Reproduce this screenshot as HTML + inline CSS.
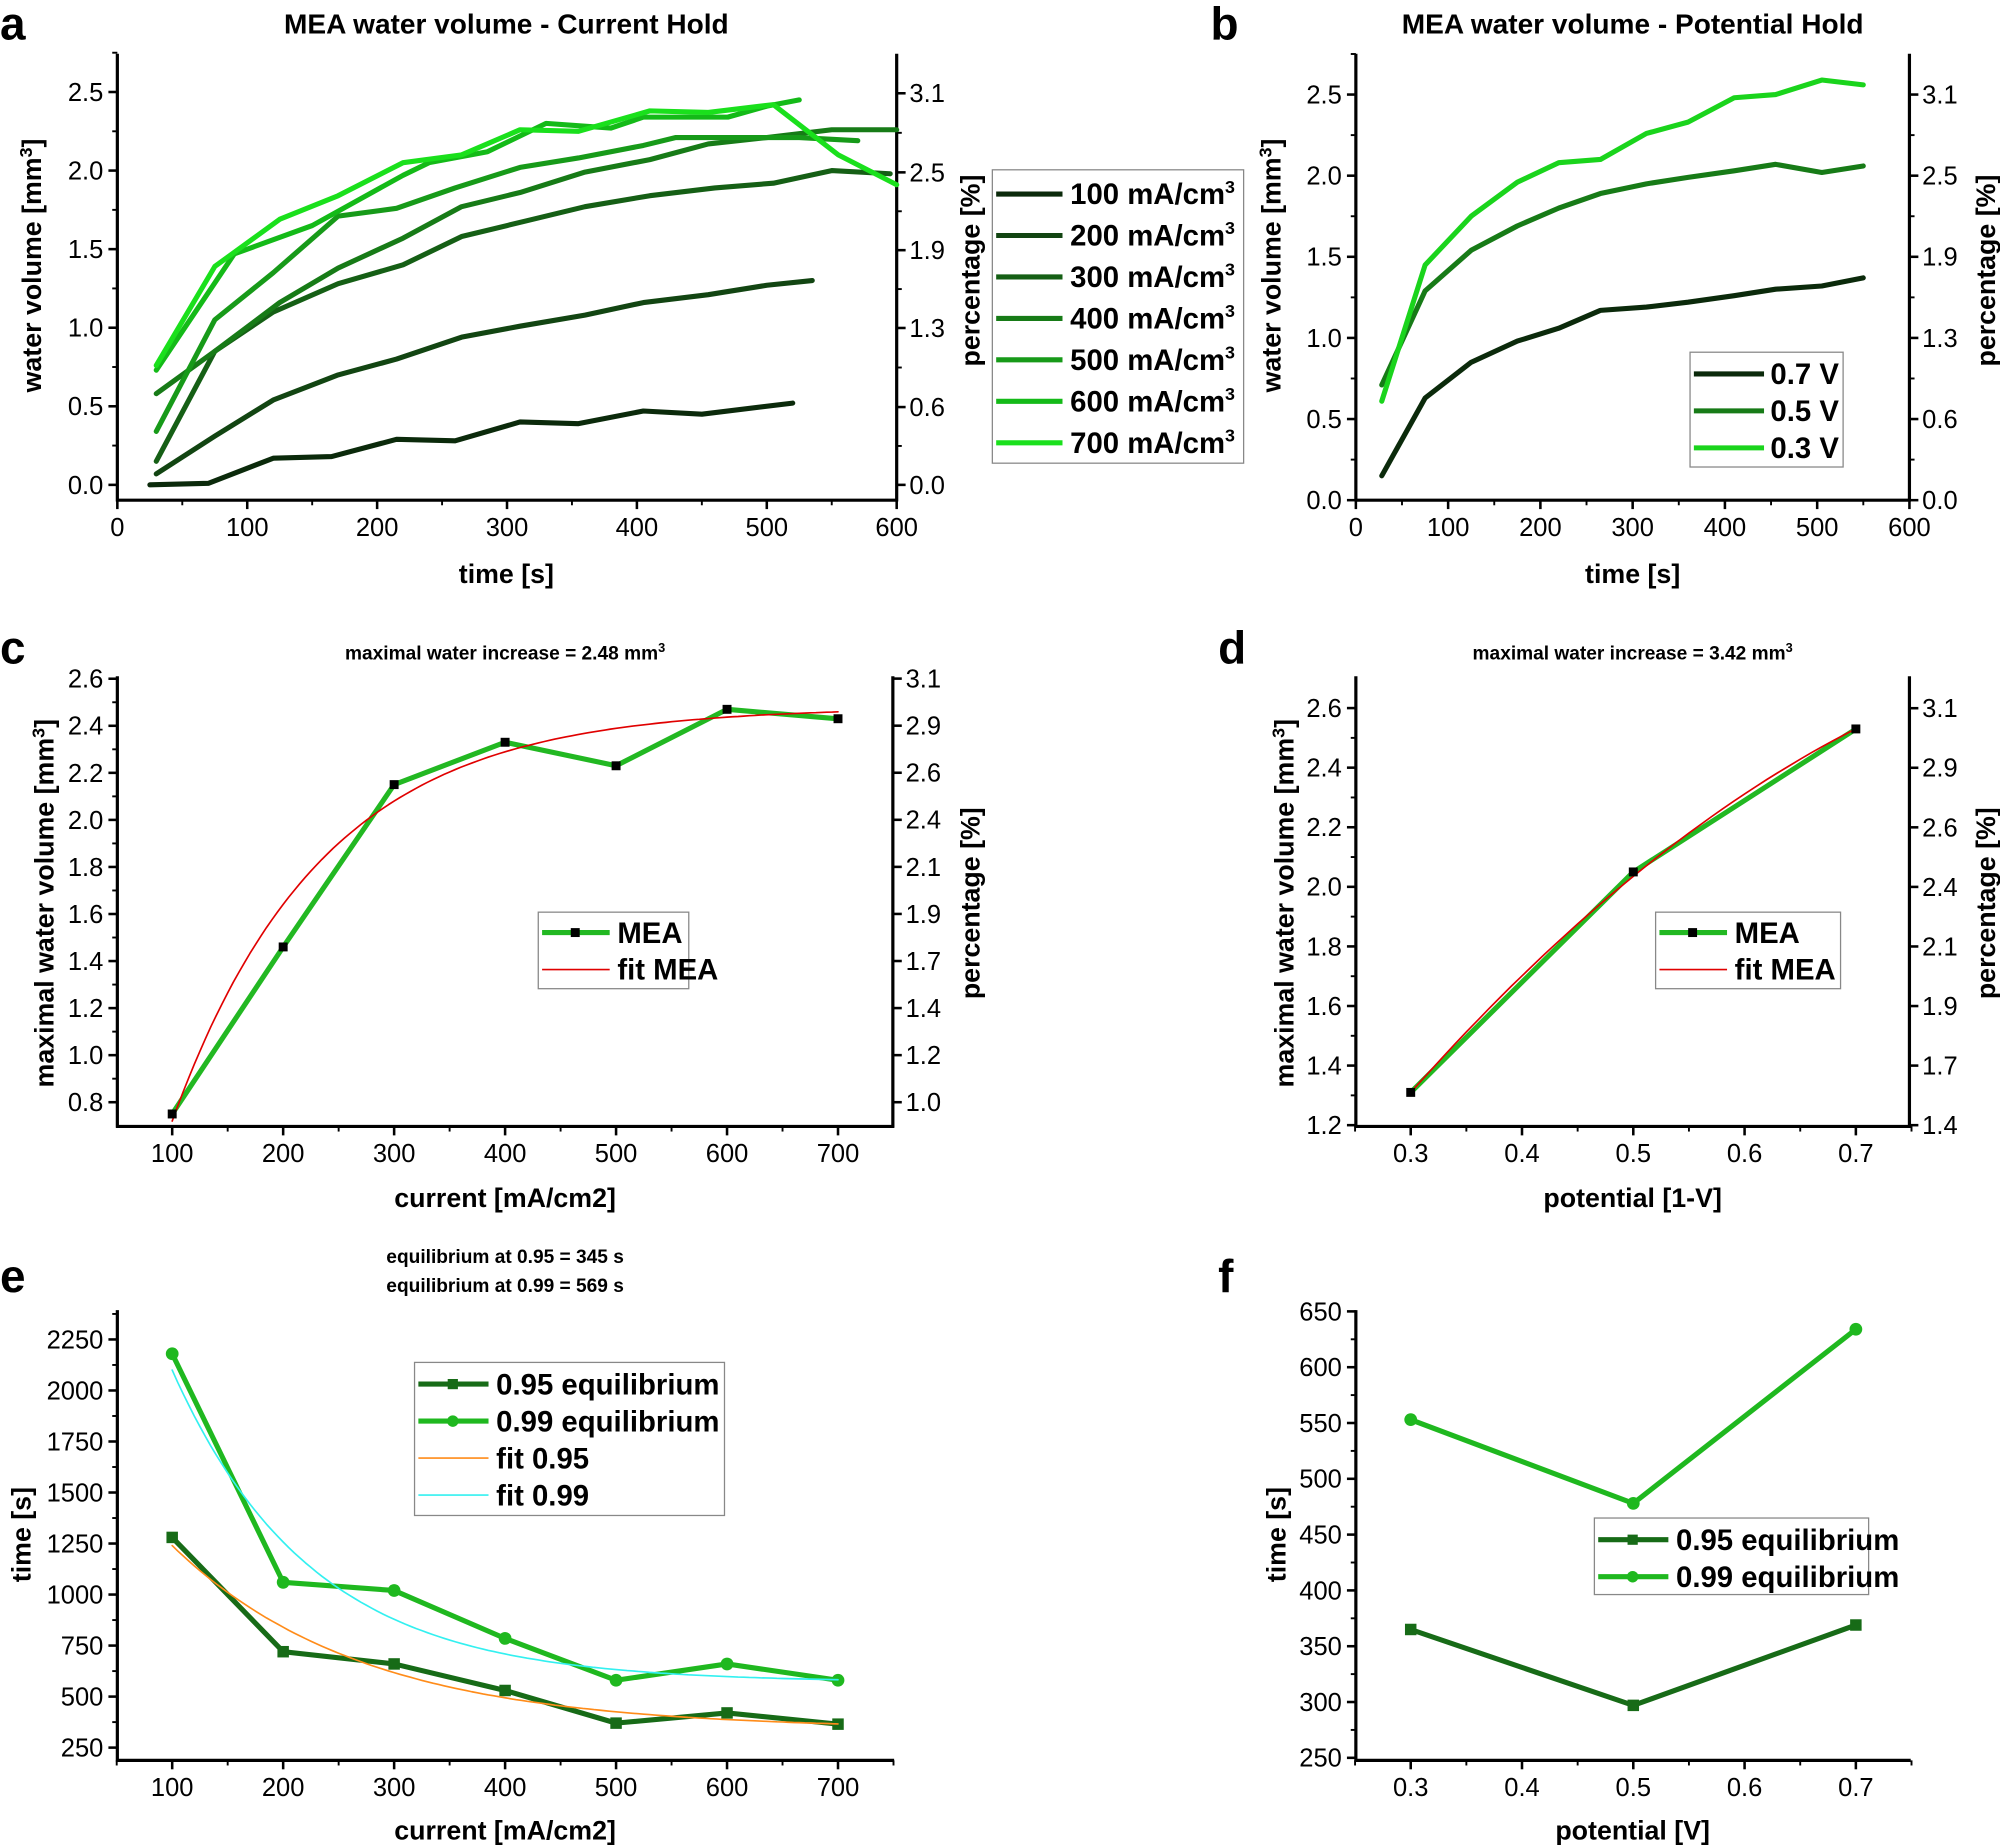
<!DOCTYPE html>
<html><head><meta charset="utf-8"><style>
html,body{margin:0;padding:0;background:#fff}
svg{display:block}
text{font-family:"Liberation Sans Narrow","Liberation Sans",sans-serif}
.t{font-size:20px;fill:#000}
.b{font-weight:bold}
</style></head><body>
<svg id="s" width="2000" height="1846" viewBox="0 0 1568 1447" xmlns="http://www.w3.org/2000/svg">
<rect width="1568" height="1447" fill="#fff"/>
<g font-family="Liberation Sans, sans-serif" font-weight="bold">
<text x="0" y="31" font-size="36">a</text>
<text x="949" y="31" font-size="36">b</text>
<text x="0" y="520" font-size="36">c</text>
<text x="955" y="520" font-size="36">d</text>
<text x="0" y="1013" font-size="36">e</text>
<text x="955" y="1013" font-size="36">f</text>
<text x="397" y="26" font-size="22" text-anchor="middle">MEA water volume - Current Hold</text>
<text x="1280" y="26" font-size="22" text-anchor="middle">MEA water volume - Potential Hold</text>
<text x="396" y="517" font-size="15" text-anchor="middle">maximal water increase = 2.48 mm<tspan dy="-6" font-size="10">3</tspan></text>
<text x="1280" y="517" font-size="15" text-anchor="middle">maximal water increase = 3.42 mm<tspan dy="-6" font-size="10">3</tspan></text>
<text x="396" y="990" font-size="15" text-anchor="middle">equilibrium at 0.95 = 345 s</text>
<text x="396" y="1013" font-size="15" text-anchor="middle">equilibrium at 0.99 = 569 s</text>
<text x="397" y="457" font-size="21" text-anchor="middle">time [s]</text>
<text x="1280" y="457" font-size="21" text-anchor="middle">time [s]</text>
<text x="396" y="946" font-size="21" text-anchor="middle">current [mA/cm2]</text>
<text x="1280" y="946" font-size="21" text-anchor="middle">potential [1-V]</text>
<text x="396" y="1442" font-size="21" text-anchor="middle">current [mA/cm2]</text>
<text x="1280" y="1442" font-size="21" text-anchor="middle">potential [V]</text>
<text transform="translate(32,208) rotate(-90)" font-size="21" text-anchor="middle">water volume [mm<tspan dy="-7" font-size="14">3</tspan><tspan dy="7">]</tspan></text>
<text transform="translate(1004,208) rotate(-90)" font-size="21" text-anchor="middle">water volume [mm<tspan dy="-7" font-size="14">3</tspan><tspan dy="7">]</tspan></text>
<text transform="translate(768,212) rotate(-90)" font-size="21" text-anchor="middle">percentage [%]</text>
<text transform="translate(1564,212) rotate(-90)" font-size="21" text-anchor="middle">percentage [%]</text>
<text transform="translate(42,708) rotate(-90)" font-size="21" text-anchor="middle">maximal water volume [mm<tspan dy="-7" font-size="14">3</tspan><tspan dy="7">]</tspan></text>
<text transform="translate(1014,708) rotate(-90)" font-size="21" text-anchor="middle">maximal water volume [mm<tspan dy="-7" font-size="14">3</tspan><tspan dy="7">]</tspan></text>
<text transform="translate(768,708) rotate(-90)" font-size="21" text-anchor="middle">percentage [%]</text>
<text transform="translate(1564,708) rotate(-90)" font-size="21" text-anchor="middle">percentage [%]</text>
<text transform="translate(24,1203) rotate(-90)" font-size="21" text-anchor="middle">time [s]</text>
<text transform="translate(1008,1203) rotate(-90)" font-size="21" text-anchor="middle">time [s]</text>
</g>
<g id="g"></g>
</svg>
<script>
var G=document.getElementById('g'),NS='http://www.w3.org/2000/svg';
function el(n,a,t){var e=document.createElementNS(NS,n);for(var k in a)e.setAttribute(k,a[k]);if(t!=null)e.textContent=t;G.appendChild(e);return e;}
function lin(d0,d1,p0,p1){return function(v){return p0+(v-d0)*(p1-p0)/(d1-d0);};}
function ln(x1,y1,x2,y2,w,c){el('line',{x1:x1,y1:y1,x2:x2,y2:y2,stroke:c||'#000','stroke-width':w||2.5});}
function poly(pts,X,Y,c,w){el('polyline',{points:pts.map(function(p){return X(p[0]).toFixed(1)+','+Y(p[1]).toFixed(1)}).join(' '),fill:'none',stroke:c,'stroke-width':w,'stroke-linejoin':'round','stroke-linecap':'round'});}
function frame(L,R,T,B,right){ln(L,T,L,B+1);ln(L-1,B,R+1,B);if(right)ln(R,T,R,B+1);}
function xt(vals,X,B,lab,minor){vals.forEach(function(v,i){ln(X(v),B,X(v),B+7,2);if(lab)el('text',{x:X(v),y:B+28,'text-anchor':'middle',class:'t'},lab[i]);});(minor||[]).forEach(function(v){ln(X(v),B,X(v),B+4,1.5);});}
function yt(vals,Y,L,lab,minor,side){var d=side?1:-1;vals.forEach(function(v,i){ln(L,Y(v),L+7*d,Y(v),2);el('text',{x:L+11*d,y:Y(v)+7,'text-anchor':side?'start':'end',class:'t'},lab[i]);});(minor||[]).forEach(function(v){ln(L,Y(v),L+4*d,Y(v),1.5);});}
function rng(a,b,s){var r=[];for(var v=a;v<=b+1e-9;v+=s)r.push(+v.toFixed(4));return r;}
function fx(v,d){return v.toFixed(d);}
function sq(x,y,s,c){el('rect',{x:x-s/2,y:y-s/2,width:s,height:s,fill:c});}
function ci(x,y,r,c){el('circle',{cx:x,cy:y,r:r,fill:c});}
function box(x,y,w,h){el('rect',{x:x,y:y,width:w,height:h,fill:'#fff',stroke:'#888','stroke-width':1});}
function ltxt(x,y,s,sup){var t=el('text',{x:x,y:y+8,'font-size':23,'font-weight':'bold',class:'b'});t.textContent=s;if(sup){var ts=document.createElementNS(NS,'tspan');ts.setAttribute('dy','-9');ts.setAttribute('font-size','14');ts.textContent=sup;t.appendChild(ts);}}

// ---- Panel a
(function(){var X=lin(0,600,92,703),Y=lin(0,2.5,380,72);
frame(92,703,42,392,true);
xt(rng(0,600,100),X,392,['0','100','200','300','400','500','600'],rng(50,550,100));
yt(rng(0,2.5,.5),Y,92,rng(0,2.5,.5).map(function(v){return fx(v,1)}),rng(0.25,2.75,.5));
var rl=[0,0.6,1.3,1.9,2.5,3.1],rp=[380,319,257,196,135,73];
rl.forEach(function(v,i){ln(703,rp[i],710,rp[i],2);el('text',{x:713,y:rp[i]+7,class:'t'},fx(v,1));if(i<5)ln(703,(rp[i]+rp[i+1])/2,707,(rp[i]+rp[i+1])/2,1.5);});
var C=['#0b2a0b','#124512','#155f15','#177b17','#179a19','#14ba18','#1ae01c'];
var D=[
[[25,0],[70,0.01],[120,0.17],[165,0.18],[215,0.29],[260,0.28],[310,0.40],[355,0.39],[405,0.47],[450,0.45],[520,0.52]],
[[30,0.07],[75,0.31],[120,0.54],[170,0.70],[215,0.80],[265,0.94],[310,1.01],[360,1.08],[405,1.16],[455,1.21],[500,1.27],[535,1.30]],
[[30,0.15],[75,0.85],[120,1.10],[170,1.28],[220,1.40],[265,1.58],[315,1.68],[360,1.77],[410,1.84],[460,1.89],[505,1.92],[550,2.00],[595,1.98]],
[[30,0.58],[75,0.85],[125,1.16],[170,1.38],[220,1.57],[265,1.77],[310,1.86],[360,1.99],[410,2.07],[455,2.17],[500,2.21],[550,2.26],[600,2.26]],
[[30,0.34],[75,1.05],[120,1.35],[170,1.71],[215,1.76],[260,1.89],[310,2.02],[355,2.08],[405,2.16],[430,2.21],[500,2.21],[525,2.21],[570,2.19]],
[[30,0.73],[90,1.47],[150,1.65],[220,1.97],[240,2.05],[285,2.12],[330,2.30],[380,2.27],[405,2.34],[470,2.34],[500,2.41],[525,2.45]],
[[30,0.76],[75,1.39],[125,1.69],[170,1.84],[220,2.05],[265,2.10],[310,2.26],[355,2.25],[410,2.38],[455,2.37],[505,2.42],[555,2.10],[600,1.91]]];
D.forEach(function(d,i){poly(d,X,Y,C[i],4);});
box(778,133,197,230);
['100','200','300','400','500','600','700'].forEach(function(s,i){var y=152+i*32.5;ln(781,y,833,y,4,C[i]);ltxt(839,y,s+' mA/cm','3');});
})();

// ---- Panel b
(function(){var X=lin(0,600,1063,1497),Y=lin(0,2.5,392,74);
frame(1063,1497,42,392,true);
xt(rng(0,600,100),X,392,['0','100','200','300','400','500','600'],rng(50,550,100));
yt(rng(0,2.5,.5),Y,1063,rng(0,2.5,.5).map(function(v){return fx(v,1)}),rng(0.25,2.75,.5));
var rl=[0,0.6,1.3,1.9,2.5,3.1];
rl.forEach(function(v,i){var p=392-i*63.6;ln(1497,p,1504,p,2);el('text',{x:1507,y:p+7,class:'t'},fx(v,1));if(i<5)ln(1497,p-31.8,1501,p-31.8,1.5);});
var C=['#0b2a0b','#177b17','#1ad41c'];
var D=[
[[28,0.15],[75,0.63],[125,0.85],[175,0.98],[220,1.06],[265,1.17],[315,1.19],[360,1.22],[410,1.26],[455,1.30],[505,1.32],[550,1.37]],
[[28,0.71],[75,1.29],[125,1.54],[175,1.69],[220,1.80],[265,1.89],[315,1.95],[360,1.99],[410,2.03],[455,2.07],[505,2.02],[550,2.06]],
[[28,0.61],[75,1.45],[125,1.75],[175,1.96],[220,2.08],[265,2.10],[315,2.26],[360,2.33],[410,2.48],[455,2.50],[505,2.59],[550,2.56]]];
D.forEach(function(d,i){poly(d,X,Y,C[i],4);});
box(1325,276,120,90);
['0.7 V','0.5 V','0.3 V'].forEach(function(s,i){var y=293+i*29;ln(1328,y,1383,y,4,C[i]);ltxt(1388,y,s);});
})();

// ---- Panel c
(function(){var X=lin(100,700,135,657),Y=lin(0.8,2.6,864,532);
frame(92,700,530,883,true);
xt(rng(100,700,100),X,883,['100','200','300','400','500','600','700'],rng(150,650,100));
yt(rng(0.8,2.6,.2),Y,92,rng(0.8,2.6,.2).map(function(v){return fx(v,1)}),rng(0.9,2.5,.2));
var rl=['1.0','1.2','1.4','1.7','1.9','2.1','2.4','2.6','2.9','3.1'];
rl.forEach(function(v,i){var p=864-i*36.9;ln(700,p,707,p,2);el('text',{x:710,y:p+7,class:'t'},v);});
var fit=[];for(var x=100;x<=700;x+=5)fit.push([x,2.48-1.76*Math.exp(-(x-100)/135)]);
var d=[[100,0.75],[200,1.46],[300,2.15],[400,2.33],[500,2.23],[600,2.47],[700,2.43]];
poly(d,X,Y,'#22b822',4);poly(fit,X,Y,'#e00000',1.3);
d.forEach(function(p){sq(X(p[0]),Y(p[1]),7,'#000');});
box(422,715,118,60);ln(425,731,478,731,4,'#22b822');sq(451,731,7,'#000');ltxt(484,731,'MEA');ln(425,760,478,760,1.3,'#e00000');ltxt(484,760,'fit MEA');
})();

// ---- Panel d
(function(){var X=lin(0.3,0.7,1106,1455),Y=lin(1.2,2.6,882,555);
frame(1063,1497,530,883,true);
xt(rng(0.3,0.7,.1),X,883,['0.3','0.4','0.5','0.6','0.7'],rng(0.25,0.75,.1));
yt(rng(1.2,2.6,.2),Y,1063,rng(1.2,2.6,.2).map(function(v){return fx(v,1)}),rng(1.3,2.5,.2));
var rl=['1.4','1.7','1.9','2.1','2.4','2.6','2.9','3.1'];
rl.forEach(function(v,i){var p=882-i*46.7;ln(1497,p,1504,p,2);el('text',{x:1507,y:p+7,class:'t'},v);});
var d=[[0.3,1.31],[0.5,2.05],[0.7,2.53]];
var fit=[];for(var x=0.3;x<=0.7001;x+=0.01)fit.push([x,1.31+ (x-0.3)*4.2 - (x-0.3)*(x-0.3)*2.87]);
poly(d,X,Y,'#22b822',4);poly(fit,X,Y,'#e00000',1.3);
d.forEach(function(p){sq(X(p[0]),Y(p[1]),7,'#000');});
box(1298,715,145,60);ln(1301,731,1354,731,4,'#22b822');sq(1327,731,7,'#000');ltxt(1360,731,'MEA');ln(1301,760,1354,760,1.3,'#e00000');ltxt(1360,760,'fit MEA');
})();

// ---- Panel e
(function(){var X=lin(100,700,135,657),Y=lin(250,2250,1370,1050);
frame(92,700,1027,1380,false);
xt(rng(100,700,100),X,1380,['100','200','300','400','500','600','700'],rng(50,750,100));
yt(rng(250,2250,250),Y,92,rng(250,2250,250).map(function(v){return String(v)}),rng(375,2375,250));
var a=[[100,1280],[200,720],[300,660],[400,530],[500,370],[600,420],[700,365]];
var b=[[100,2180],[200,1060],[300,1020],[400,785],[500,580],[600,660],[700,580]];
var f1=[],f2=[];for(var x=100;x<=700;x+=5){f1.push([x,340+900*Math.exp(-(x-100)/170)]);f2.push([x,570+1530*Math.exp(-(x-100)/125)]);}
poly(a,X,Y,'#176b17',4);poly(b,X,Y,'#1fb81f',4);
a.forEach(function(p){sq(X(p[0]),Y(p[1]),9,'#176b17');});
b.forEach(function(p){ci(X(p[0]),Y(p[1]),5,'#1fb81f');});
poly(f1,X,Y,'#ff8c1a',1.3);poly(f2,X,Y,'#33f0f0',1.3);
box(325,1068,243,120);
ln(328,1085,383,1085,4,'#176b17');sq(355,1085,8,'#176b17');ltxt(389,1085,'0.95 equilibrium');
ln(328,1114,383,1114,4,'#1fb81f');ci(355,1114,4.5,'#1fb81f');ltxt(389,1114,'0.99 equilibrium');
ln(328,1143,383,1143,1.3,'#ff8c1a');ltxt(389,1143,'fit 0.95');
ln(328,1172,383,1172,1.3,'#33f0f0');ltxt(389,1172,'fit 0.99');
})();

// ---- Panel f
(function(){var X=lin(0.3,0.7,1106,1455),Y=lin(250,650,1378,1028);
frame(1063,1497,1027,1380,false);
xt(rng(0.3,0.7,.1),X,1380,['0.3','0.4','0.5','0.6','0.7'],rng(0.25,0.75,.1));
yt(rng(250,650,50),Y,1063,rng(250,650,50).map(function(v){return String(v)}),rng(275,625,50));
var a=[[0.3,365],[0.5,297],[0.7,369]],b=[[0.3,553],[0.5,478],[0.7,634]];
poly(a,X,Y,'#176b17',4);poly(b,X,Y,'#1fb81f',4);
a.forEach(function(p){sq(X(p[0]),Y(p[1]),9,'#176b17');});
b.forEach(function(p){ci(X(p[0]),Y(p[1]),5,'#1fb81f');});
box(1250,1190,215,60);
ln(1253,1207,1308,1207,4,'#176b17');sq(1280,1207,8,'#176b17');ltxt(1314,1207,'0.95 equilibrium');
ln(1253,1236,1308,1236,4,'#1fb81f');ci(1280,1236,4.5,'#1fb81f');ltxt(1314,1236,'0.99 equilibrium');
})();
</script>
</body></html>
